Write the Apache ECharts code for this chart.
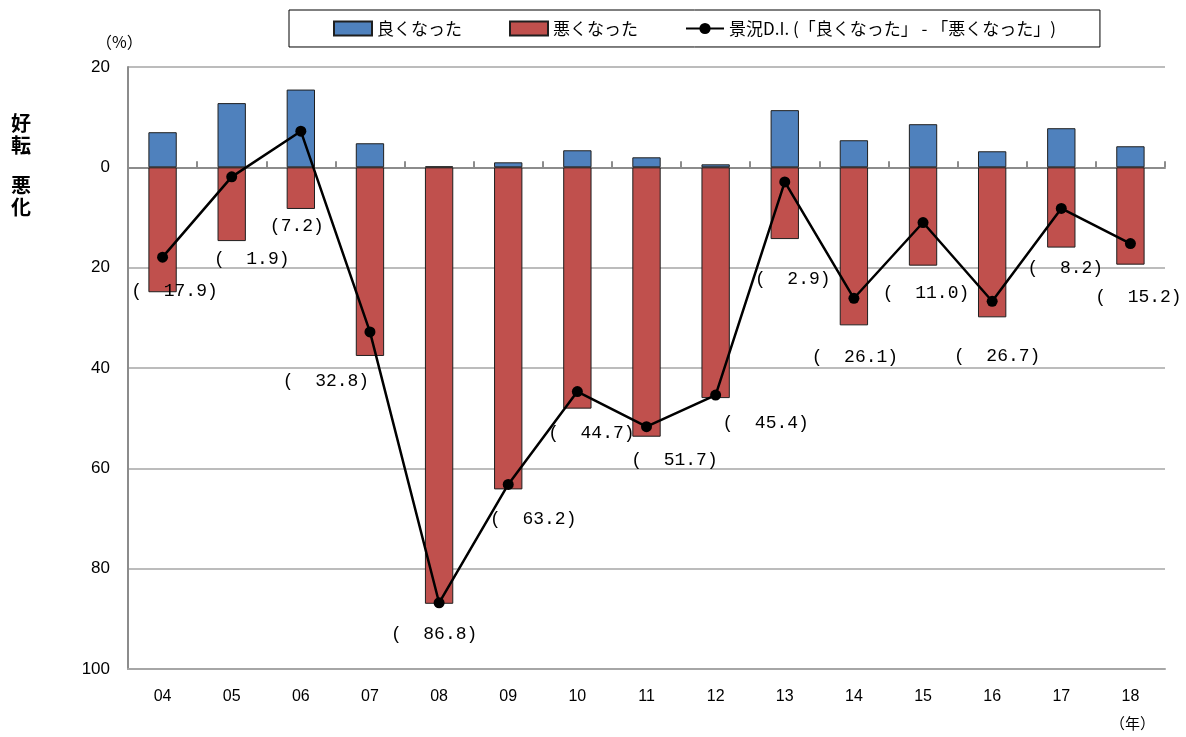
<!DOCTYPE html>
<html>
<head>
<meta charset="utf-8">
<script src="https://cdn.jsdelivr.net/npm/echarts@6/dist/echarts.min.js"></script>
<style>
html, body { margin: 0; padding: 0; background: #fff; }
#chart { width: 1186px; height: 737px; }
</style>
</head>
<body>
<div id="chart"></div>
<script>
var years = ['04', '05', '06', '07', '08', '09', '10', '11', '12', '13', '14', '15', '16', '17', '18'];
// 良くなった (%)
var goodData = [7.0, 12.8, 15.5, 4.8, 0.2, 1.0, 3.4, 2.0, 0.6, 11.4, 5.4, 8.6, 3.2, 7.8, 4.2];
// 悪くなった (%) 下向きに描く
var badData = [24.9, 14.7, 8.3, 37.6, 87.0, 64.2, 48.1, 53.7, 46.0, 14.3, 31.5, 19.6, 29.9, 16.0, 19.4];
// 景況D.I.
var diData = [-17.9, -1.9, 7.2, -32.8, -86.8, -63.2, -44.7, -51.7, -45.4, -2.9, -26.1, -11.0, -26.7, -8.2, -15.2];
var yTicks = [-100, -80, -60, -40, -20, 0, 20];

// ラベル位置（点からのずれ）
var labelOffsets = [[12, 34], [20, 82], [-4, 95], [-44, 49], [-5, 31], [25, 35], [14, 42], [28, 34],
	[50, 28], [8, 97], [1, 59], [3, 71], [5, 55], [4, 60], [8, 54]];

var myChart = echarts.init(document.getElementById('chart'));

var badNeg = [];
for (var i = 0; i < badData.length; i++) {
	badNeg.push(-badData[i]);
}

var diItems = [];
for (var j = 0; j < diData.length; j++) {
	var v = diData[j];
	var txt = v >= 0 ? '(' + v.toFixed(1) + ')' : '(  ' + Math.abs(v).toFixed(1) + ')';
	diItems.push({
		value: v,
		label: {
			show: true,
			position: 'inside',
			offset: labelOffsets[j],
			formatter: txt
		}
	});
}

var jp = '"Liberation Sans", "Noto Sans CJK JP", sans-serif';

var option = {
	backgroundColor: '#fff',
	animation: false,
	textStyle: { fontFamily: jp },
	legend: {
		left: 289,
		top: 10,
		padding: [10, 44, 10, 44],
		itemGap: 47,
		itemWidth: 38,
		itemHeight: 14,
		borderColor: '#000',
		borderWidth: 1,
		textStyle: { fontSize: 17, color: '#000', fontFamily: '"Noto Sans CJK JP", sans-serif' },
		data: [
			{ name: '良くなった', icon: 'rect' },
			{ name: '悪くなった', icon: 'rect' },
			{ name: '景況D.I. (「良くなった」 - 「悪くなった」)' }
		]
	},
	grid: {
		left: 128,
		right: 21,
		top: 67,
		bottom: 68
	},
	xAxis: [{
		type: 'category',
		data: years,
		position: 'bottom',
		axisLine: { onZero: false, lineStyle: { color: '#a6a6a6', width: 2 } },
		axisTick: { show: false },
		axisLabel: { color: '#000', fontSize: 16, margin: 20 }
	}, {
		type: 'category',
		data: years,
		position: 'bottom',
		axisLine: { onZero: true, lineStyle: { color: '#8c8c8c', width: 2 } },
		axisTick: { show: true, inside: true, length: 6, lineStyle: { color: '#8c8c8c', width: 2 } },
		axisLabel: { show: false }
	}],
	yAxis: {
		type: 'value',
		min: yTicks[0],
		max: yTicks[yTicks.length - 1],
		interval: 20,
		axisLine: { show: true, lineStyle: { color: '#8c8c8c', width: 2 } },
		axisTick: { show: false },
		axisLabel: {
			color: '#000',
			fontSize: 17,
			margin: 18,
			formatter: function (val) { return Math.abs(val); }
		},
		splitLine: { lineStyle: { color: '#a6a6a6', width: 1.5 } }
	},
	graphic: [
		{ type: 'text', left: 96, top: 34, style: { text: '（%）', fill: '#000', font: '16px "Noto Sans CJK JP"' } },
		{ type: 'text', left: 1110, top: 716, style: { text: '（年）', fill: '#000', font: '15px "Noto Sans CJK JP"' } },
		{ type: 'text', left: 11, top: 112, style: { text: '好\n転', font: 'bold 20px "Noto Sans CJK JP"', fill: '#000', lineHeight: 22 } },
		{ type: 'text', left: 11, top: 174, style: { text: '悪\n化', font: 'bold 20px "Noto Sans CJK JP"', fill: '#000', lineHeight: 22 } }
	],
	series: [{
		name: '良くなった',
		type: 'bar',
		barWidth: '41%',
		barGap: '-100%',
		data: goodData,
		itemStyle: { color: '#4f81bd', borderColor: '#1f1f1f', borderWidth: 1 }
	}, {
		name: '悪くなった',
		type: 'bar',
		barWidth: '41%',
		barGap: '-100%',
		data: badNeg,
		itemStyle: { color: '#c0504d', borderColor: '#1f1f1f', borderWidth: 1 }
	}, {
		name: '景況D.I. (「良くなった」 - 「悪くなった」)',
		type: 'line',
		data: diItems,
		symbol: 'circle',
		symbolSize: 11,
		z: 5,
		lineStyle: { color: '#000', width: 2.5 },
		itemStyle: { color: '#000' },
		label: {
			color: '#000',
			fontSize: 18,
			fontFamily: '"Liberation Mono", monospace'
		}
	}]
};

myChart.setOption(option);
</script>
</body>
</html>
